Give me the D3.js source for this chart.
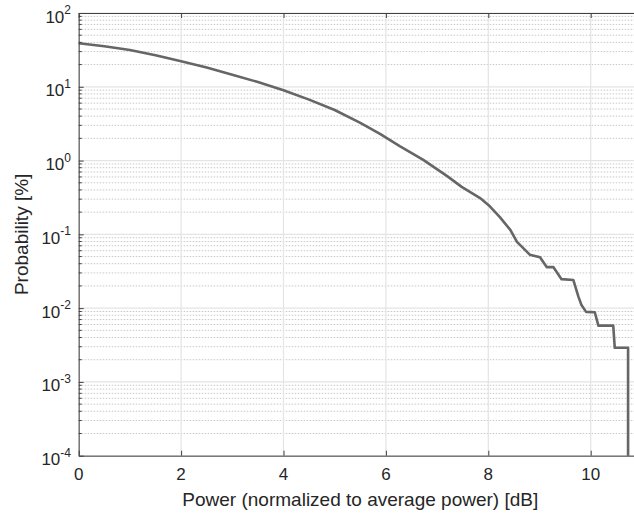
<!DOCTYPE html>
<html lang="en">
<head>
<meta charset="utf-8">
<title>CCDF</title>
<script src="https://d3js.org/d3.v7.min.js"></script>
<style>
  body { margin: 0; background: #fff; }
  text { font-family: "Liberation Sans", Arial, sans-serif; fill: #262626; }
</style>
</head>
<body>
<div id="chart"></div>
<script>
// curve: power in dB, probability in %
var powerDb = [0, 0.5, 1, 1.5, 2, 2.5, 3, 3.5, 4, 4.5, 5, 5.5, 5.885, 6.27, 6.73, 7.19, 7.48, 7.84, 8.03, 8.23, 8.43,
  8.56, 8.81, 9.01, 9.14, 9.27, 9.43, 9.66, 9.76, 9.82, 9.91, 10.08, 10.15, 10.44, 10.47, 10.73, 10.73];
var probPct = [39, 35.5, 31.5, 26.8, 22.2, 18.2, 14.6, 11.6, 9.0, 6.7, 4.85, 3.25, 2.3, 1.57, 1.02, 0.62, 0.44, 0.31, 0.24, 0.17, 0.115,
  0.079, 0.053, 0.049, 0.036, 0.036, 0.0247, 0.0241, 0.0143, 0.011, 0.0089, 0.0088, 0.0058, 0.0058, 0.0029, 0.0029, 0.0001];

var xTicks = [0, 2, 4, 6, 8, 10];
var yTickExps = [-4, -3, -2, -1, 0, 1, 2];

var w = 634, h = 516;
var margin = {left: 78.7, top: 13, bottom: 455.7};

// x axis runs to 11 dB; the right part of the box falls outside the picture
var x = d3.scaleLinear().domain([0, 11]).range([margin.left, margin.left + 11 * 51.2]);
var y = d3.scaleLog().domain([1e-4, 1e2]).range([margin.bottom, margin.top]);

var svg = d3.select("#chart").append("svg")
  .attr("width", w).attr("height", h);

var x0 = x.range()[0], x1 = x.range()[1];
var y0 = y.range()[0], y1 = y.range()[1];

// minor grid (dotted)
var minors = [];
yTickExps.slice(0, -1).forEach(function (e) {
  for (var k = 2; k <= 9; k++) minors.push(k * Math.pow(10, e));
});
svg.append("g").selectAll("line").data(minors).enter().append("line")
  .attr("x1", x0).attr("x2", x1)
  .attr("y1", function (d) { return y(d); }).attr("y2", function (d) { return y(d); })
  .attr("stroke", "#c8c8c8").attr("stroke-width", 1)
  .attr("stroke-dasharray", "1.5,1.5");

// major grid
svg.append("g").selectAll("line").data(yTickExps).enter().append("line")
  .attr("x1", x0).attr("x2", x1)
  .attr("y1", function (d) { return y(Math.pow(10, d)); }).attr("y2", function (d) { return y(Math.pow(10, d)); })
  .attr("stroke", "#e4e4e4").attr("stroke-width", 1.2);
svg.append("g").selectAll("line").data(xTicks).enter().append("line")
  .attr("x1", function (d) { return x(d); }).attr("x2", function (d) { return x(d); })
  .attr("y1", y0).attr("y2", y1)
  .attr("stroke", "#e4e4e4").attr("stroke-width", 1.2);

// curve
var pts = powerDb.map(function (d, i) { return [d, probPct[i]]; });
var line = d3.line()
  .x(function (d) { return x(d[0]); })
  .y(function (d) { return y(d[1]); });
svg.append("path").datum(pts)
  .attr("d", line)
  .attr("fill", "none")
  .attr("stroke", "#666")
  .attr("stroke-width", 2.6)
  .attr("stroke-linejoin", "round");

// axes, MATLAB style box with inward ticks
var axisColor = "#404040";
var gx = svg.append("g").attr("transform", "translate(0," + y0 + ")")
  .call(d3.axisBottom(x).tickValues(xTicks).tickSizeInner(-5).tickSizeOuter(0).tickFormat(""));
gx.select(".domain").attr("stroke", axisColor);
gx.selectAll(".tick line").attr("stroke", axisColor);

var gxt = svg.append("g").attr("transform", "translate(0," + y1 + ")")
  .call(d3.axisTop(x).tickValues(xTicks).tickSizeInner(-5).tickSizeOuter(0).tickFormat(""));
gxt.select(".domain").attr("stroke", axisColor);
gxt.selectAll(".tick line").attr("stroke", axisColor);

var gy = svg.append("g").attr("transform", "translate(" + x0 + ",0)")
  .call(d3.axisLeft(y).tickValues(yTickExps.map(function (e) { return Math.pow(10, e); }))
    .tickSizeInner(-5).tickSizeOuter(0).tickFormat(""));
gy.select(".domain").attr("stroke", axisColor);
gy.selectAll(".tick line").attr("stroke", axisColor);

// minor y ticks
svg.append("g").selectAll("line").data(minors).enter().append("line")
  .attr("x1", x0).attr("x2", x0 + 3)
  .attr("y1", function (d) { return y(d); }).attr("y2", function (d) { return y(d); })
  .attr("stroke", axisColor);

// x tick labels
svg.append("g").selectAll("text").data(xTicks).enter().append("text")
  .attr("x", function (d) { return x(d); })
  .attr("y", 480)
  .attr("text-anchor", "middle")
  .attr("font-size", 17)
  .text(function (d) { return d; });

// y tick labels 10^n
var yl = svg.append("g").selectAll("text").data(yTickExps).enter().append("text")
  .attr("x", 71)
  .attr("y", function (d) { return y(Math.pow(10, d)) + 9.5; })
  .attr("text-anchor", "end")
  .attr("font-size", 17);
yl.append("tspan").text("10");
yl.append("tspan").attr("dy", -8.5).attr("font-size", 12).text(function (d) { return d; });

// axis labels
svg.append("text")
  .attr("x", (x0 + x1) / 2).attr("y", 506)
  .attr("text-anchor", "middle").attr("font-size", 19)
  .text("Power (normalized to average power) [dB]");

svg.append("text")
  .attr("transform", "translate(28," + ((y0 + y1) / 2) + ") rotate(-90)")
  .attr("text-anchor", "middle").attr("font-size", 19)
  .text("Probability [%]");
</script>
</body>
</html>
